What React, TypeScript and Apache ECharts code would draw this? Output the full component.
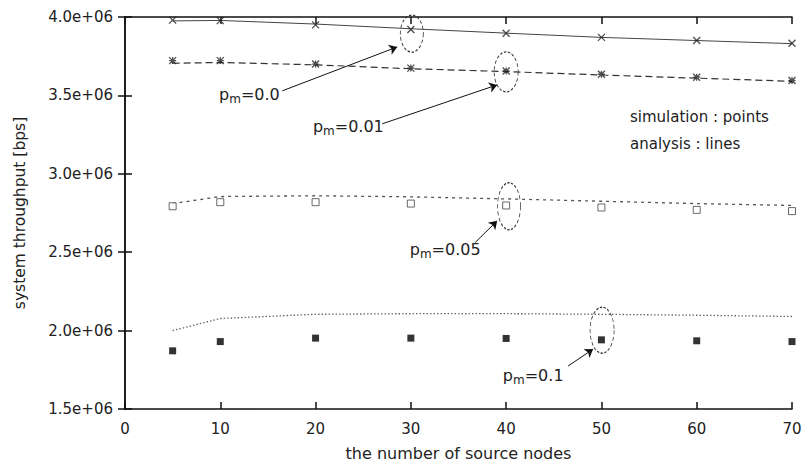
import React, { useEffect, useRef } from "react";
import * as echarts from "echarts";

const nodes = [5, 10, 20, 30, 40, 50, 60, 70];
const simPm000 = [3.98e6, 3.977e6, 3.95e6, 3.92e6, 3.896e6, 3.87e6, 3.85e6, 3.833e6];
const simPm001 = [3.722e6, 3.722e6, 3.70e6, 3.674e6, 3.656e6, 3.635e6, 3.616e6, 3.595e6];
const simPm005 = [2.793e6, 2.819e6, 2.819e6, 2.81e6, 2.798e6, 2.785e6, 2.77e6, 2.762e6];
const simPm010 = [1.871e6, 1.93e6, 1.952e6, 1.952e6, 1.95e6, 1.941e6, 1.935e6, 1.93e6];
const anaPm000 = [3.975e6, 3.978e6, 3.955e6, 3.925e6, 3.897e6, 3.87e6, 3.85e6, 3.83e6];
const anaPm001 = [3.705e6, 3.71e6, 3.695e6, 3.67e6, 3.652e6, 3.63e6, 3.61e6, 3.59e6];
const anaPm005 = [2.81e6, 2.855e6, 2.86e6, 2.853e6, 2.84e6, 2.825e6, 2.81e6, 2.798e6];
const anaPm010 = [2.0e6, 2.077e6, 2.104e6, 2.108e6, 2.108e6, 2.104e6, 2.098e6, 2.09e6];

const pmLabels = ["0.0", "0.01", "0.05", "0.1"];
// annotation anchors in data coordinates
const annText = [[13.06, 3.504e6], [23.44, 3.30e6], [33.6, 2.518e6], [42.84, 1.716e6]];
const annArrowFrom = [[16.5, 3.529e6], [27.0, 3.319e6], [36.75, 2.562e6], [46.5, 1.774e6]];
const annArrowTo = [[28.57, 3.809e6], [39.06, 3.567e6], [39.06, 2.70e6], [49.13, 1.882e6]];
const annEllipse = [[30.1, 3.894e6], [40.0, 3.65e6], [40.3, 2.793e6], [50.07, 2.0025e6]];
const annEllipseSize = [[23, 37], [24, 40], [23, 47], [24, 46]];

const xTicks = { min: 0, max: 70, interval: 10 };
const yTicks = { min: 1.5e6, max: 4.0e6, interval: 0.5e6 };

const FONT = "DejaVu Sans";

const pair = (xs: number[], ys: number[]) => xs.map((x, i) => [x, ys[i]]);

export default function App() {
  const ref = useRef<HTMLDivElement>(null);
  useEffect(() => {
    const chart = echarts.init(ref.current!, null, { renderer: "svg" });
    const axisLine = { show: true, lineStyle: { color: "#111", width: 1.5 } };
    const axisTick = { show: true, inside: true, length: 7, lineStyle: { color: "#111", width: 1.5 } };
    const lineBase = (data: number[], type: any, color: string, width: number) => ({
      type: "line",
      data: pair(nodes, data),
      showSymbol: false,
      symbol: "none",
      lineStyle: { color, width, type },
      silent: true,
      z: 2,
    });
    const scat = (data: number[], symbol: string, size: number, style: any) => ({
      type: "scatter",
      data: pair(nodes, data),
      symbol,
      symbolSize: size,
      itemStyle: style,
      silent: true,
      z: 3,
    });
    const option: any = {
      animation: false,
      backgroundColor: "#fff",
      textStyle: { fontFamily: FONT },
      grid: { left: 125, right: 16, top: 17, bottom: 56 },
      xAxis: [
        {
          type: "value",
          ...xTicks,
          name: "the number of source nodes",
          nameLocation: "middle",
          nameGap: 36,
          nameTextStyle: { fontFamily: FONT, fontSize: 16, color: "#222" },
          axisLine,
          axisTick,
          splitLine: { show: false },
          axisLabel: { fontFamily: FONT, fontSize: 15, color: "#222", margin: 12 },
        },
        {
          type: "value",
          ...xTicks,
          position: "top",
          axisLine,
          axisTick,
          splitLine: { show: false },
          axisLabel: { show: false },
        },
      ],
      yAxis: [
        {
          type: "value",
          ...yTicks,
          name: "system throughput [bps]",
          nameLocation: "middle",
          nameRotate: 90,
          nameGap: 97,
          nameTextStyle: { fontFamily: FONT, fontSize: 15.5, color: "#222" },
          axisLine,
          axisTick,
          splitLine: { show: false },
          axisLabel: {
            fontFamily: FONT,
            fontSize: 15,
            color: "#222",
            margin: 12,
            formatter: (v: number) => (v / 1e6).toFixed(1) + "e+06",
          },
        },
        {
          type: "value",
          ...yTicks,
          position: "right",
          axisLine,
          axisTick,
          splitLine: { show: false },
          axisLabel: { show: false },
        },
      ],
      series: [
        lineBase(anaPm000, "solid", "#444", 1),
        lineBase(anaPm001, [7, 4], "#333", 1.2),
        lineBase(anaPm005, [3, 4], "#555", 1.3),
        lineBase(anaPm010, [1.5, 2], "#666", 1.3),
        scat(simPm000, "path://M0,0L10,10M10,0L0,10", 7, { color: "transparent", borderColor: "#222", borderWidth: 1.3 }),
        scat(simPm001, "path://M0,0L10,10M10,0L0,10M5,0L5,10M0,5L10,5", 7, { color: "transparent", borderColor: "#222", borderWidth: 1.3 }),
        scat(simPm005, "rect", 7, { color: "#fff", borderColor: "#444", borderWidth: 1 }),
        {
          ...scat(simPm010, "rect", 7, { color: "#000" }),
          markPoint: {
            silent: true,
            data: [
              ...annEllipse.map((c, i) => ({
                coord: c,
                symbol: "circle",
                symbolSize: annEllipseSize[i],
                itemStyle: { color: "transparent", borderColor: "#333", borderWidth: 1, borderType: [3, 2] },
                label: { show: false },
              })),
              ...annText.map((c, i) => ({
                coord: c,
                symbol: "circle",
                symbolSize: 1,
                itemStyle: { color: "transparent" },
                label: {
                  show: true,
                  position: "inside",
                  formatter: "{p|p}{s|m}{p|=" + pmLabels[i] + "}",
                  rich: {
                    p: { fontFamily: FONT, fontSize: 16, color: "#222" },
                    s: { fontFamily: FONT, fontSize: 12, color: "#222", padding: [9, 0, 0, 0] },
                  },
                },
              })),
            ],
          },
          markLine: {
            silent: true,
            symbol: ["none", "arrow"],
            symbolSize: 8,
            label: { show: false },
            lineStyle: { color: "#111", width: 1, type: "solid" },
            data: annArrowFrom.map((f, i) => [{ coord: f }, { coord: annArrowTo[i] }]),
          },
        },
      ],
      graphic: [
        {
          type: "text",
          left: 630,
          top: 109,
          style: { text: "simulation : points", fontFamily: FONT, fontSize: 15, fill: "#222" },
        },
        {
          type: "text",
          left: 630,
          top: 136,
          style: { text: "analysis : lines", fontFamily: FONT, fontSize: 15, fill: "#222" },
        },
      ],
    };
    chart.setOption(option);
    return () => chart.dispose();
  }, []);
  return (
    <div
      ref={ref}
      style={{ position: "fixed", left: 0, top: 0, width: 808, height: 466 }}
    />
  );
}
